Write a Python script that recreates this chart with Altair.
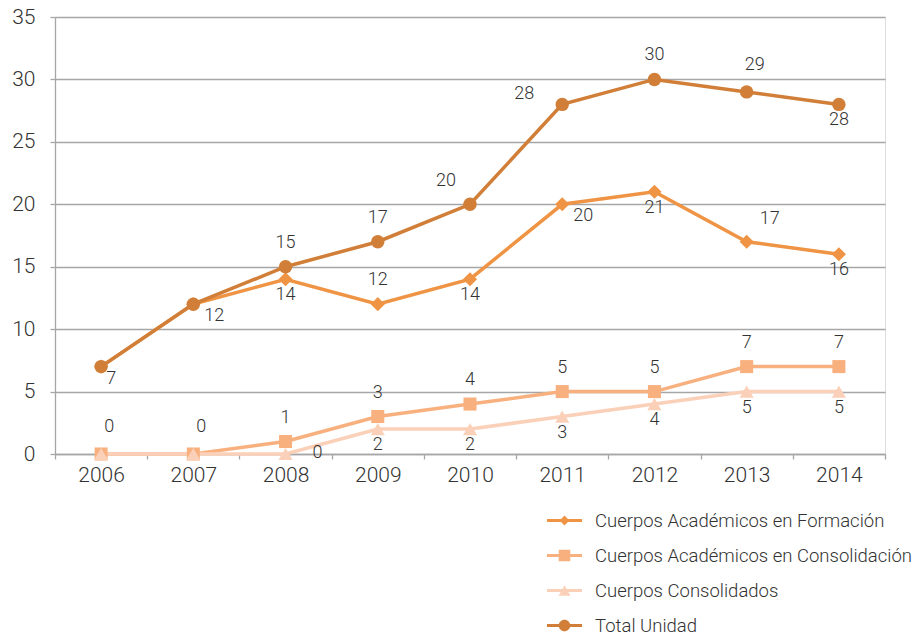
import altair as alt
import pandas as pd

years = ["2006", "2007", "2008", "2009", "2010", "2011", "2012", "2013", "2014"]
series_names = [
    "Cuerpos Académicos en Formación",
    "Cuerpos Académicos en Consolidación",
    "Cuerpos Consolidados",
    "Total Unidad",
]
formacion = [7, 12, 14, 12, 14, 20, 21, 17, 16]
consolidacion = [0, 0, 1, 3, 4, 5, 5, 7, 7]
consolidados = [0, 0, 0, 2, 2, 3, 4, 5, 5]
total = [7, 12, 15, 17, 20, 28, 30, 29, 28]

# where each value label sits relative to its point
pos_formacion = ["belownear", "belowright", "below", "above", "below", "belowright", "below", "aboveright", "below"]
pos_consolidacion = ["abovenear", "abovenear", "above", "above", "above", "above", "above", "above", "above"]
pos_consolidados = ["none", "none", "right", "below", "below", "below", "below", "below", "below"]
pos_total = ["none", "none", "above", "above", "aboveleft", "left", "above", "abovenear", "below"]

colors = ["#EF9444", "#F8B07F", "#FBD0B8", "#D17F38"]
shapes = ["diamond", "square", "triangle-up", "circle"]
marker_sizes = [200, 170, 200, 180]

bar = "M-1,-0.09H1V0.09H-1Z"
legend_paths = [
    bar + "M0,-0.28L0.28,0L0,0.28L-0.28,0Z",
    bar + "M-0.33,-0.33H0.33V0.33H-0.33Z",
    bar + "M0,-0.3L0.34,0.3H-0.34Z",
    bar + "M0.33,0A0.33,0.33 0 1,1 -0.33,0A0.33,0.33 0 1,1 0.33,0Z",
]

rows = []
for name, vals, poss in zip(series_names,
                            [formacion, consolidacion, consolidados, total],
                            [pos_formacion, pos_consolidacion, pos_consolidados, pos_total]):
    for yr, v, p in zip(years, vals, poss):
        rows.append({"year": yr, "series": name, "value": v, "pos": p})
df = pd.DataFrame(rows)

FONT = "Roboto"
TXT = "#333333"
GRID = "#A6A6A6"

color_scale = alt.Scale(domain=series_names, range=colors)

x_enc = alt.X(
    "year:N",
    sort=years,
    scale=alt.Scale(type="band", paddingInner=0, paddingOuter=0),
    axis=alt.Axis(
        title=None, labelAngle=0, tickBand="extent", grid=False,
        domainColor=GRID, domainWidth=1.3, tickColor=GRID, tickWidth=1.3, tickSize=5,
        labelFont=FONT, labelFontSize=21, labelColor=TXT, labelPadding=5, labelFontWeight=300,
    ),
)
y_enc = alt.Y(
    "value:Q",
    scale=alt.Scale(domain=[0, 35], nice=False),
    axis=alt.Axis(
        title=None, values=[0, 5, 10, 15, 20, 25, 30, 35],
        gridColor=GRID, gridWidth=1.3, domainColor=GRID, domainWidth=1.3,
        tickColor=GRID, tickWidth=1.3, tickSize=5,
        labelFont=FONT, labelFontSize=21, labelColor=TXT, labelPadding=15, labelFontWeight=300,
    ),
)

base = alt.Chart(df)

lines = base.mark_line(strokeWidth=3.5).encode(
    x=x_enc, y=y_enc,
    color=alt.Color("series:N", scale=color_scale, legend=None),
    detail="series:N",
)

point_layers = []
for name, shp, sz in zip(series_names, shapes, marker_sizes):
    point_layers.append(
        base.transform_filter(alt.datum.series == name)
        .mark_point(filled=True, opacity=1, shape=shp, size=sz)
        .encode(
            x=x_enc, y=y_enc,
            color=alt.Color("series:N", scale=color_scale, legend=None),
        )
    )

offsets = {
    "above": (0, -24),
    "abovenear": (8, -27),
    "aboveright": (23, -23),
    "aboveleft": (-24, -23),
    "left": (-38, -10),
    "right": (32, -1),
    "below": (0, 16),
    "belowright": (21, 12),
    "belownear": (10, 12),
}
labels = []
for key, (ddx, ddy) in offsets.items():
    labels.append(
        base.transform_filter(alt.datum.pos == key).mark_text(
            dx=ddx, dy=ddy, font=FONT, fontSize=18, fontWeight=300, color=TXT,
            align="center", baseline="middle",
        ).encode(x=x_enc, y=y_enc, text="value:Q")
    )

legend_kw = dict(
    title=None, orient="none", legendX=492, legendY=486, direction="vertical",
    symbolSize=1225, symbolOpacity=1, symbolStrokeWidth=0, rowPadding=8,
    labelFont=FONT, labelFontSize=18.5, labelFontWeight=300, labelColor=TXT,
    labelOffset=13, labelLimit=0, padding=0,
)

legend_layer = base.mark_point(filled=True, opacity=0).encode(
    x=x_enc, y=y_enc,
    color=alt.Color("series:N", scale=color_scale, legend=alt.Legend(**legend_kw)),
    shape=alt.Shape(
        "series:N", scale=alt.Scale(domain=series_names, range=legend_paths),
        legend=alt.Legend(**legend_kw),
    ),
)

chart = (
    alt.layer(lines, *point_layers, *labels, legend_layer)
    .resolve_scale(color="independent", shape="independent")
    .resolve_legend(color="independent", shape="independent")
    .properties(
        width=830, height=437,
        autosize=alt.AutoSizeParams(type="none"),
        padding={"left": 47, "top": 9, "right": 30, "bottom": 181},
    )
    .configure_view(stroke=None)
    .configure(background="white")
)

chart.save("out.html", embed_options={"renderer": "svg", "actions": False})
